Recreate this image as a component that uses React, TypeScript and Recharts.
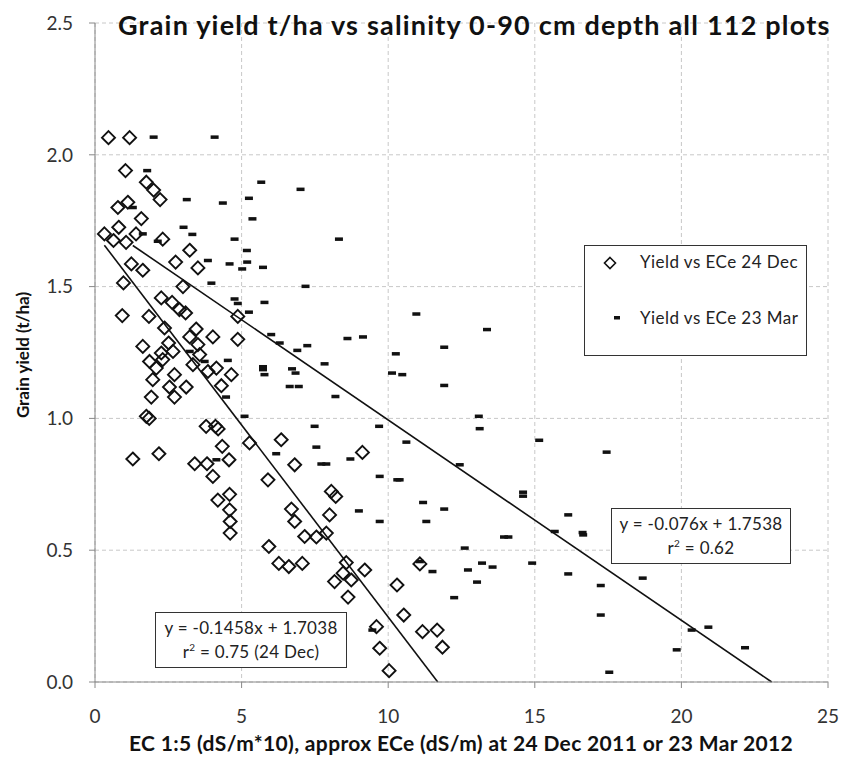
import React from 'react';
import {
  ScatterChart,
  Scatter,
  XAxis,
  YAxis,
  CartesianGrid,
  ReferenceLine,
} from 'recharts';

// EC (x) vs grain yield (y)
const dec24: [number, number][] = [
  [0.46, 2.065], [1.18, 2.065], [1.04, 1.94], [1.75, 1.896], [2.0, 1.866],
  [2.22, 1.83], [0.78, 1.8], [1.12, 1.82], [1.58, 1.758], [0.81, 1.725],
  [0.32, 1.7], [0.63, 1.675], [1.06, 1.668], [1.4, 1.7], [2.31, 1.68],
  [3.23, 1.638], [2.75, 1.593], [1.24, 1.586], [1.63, 1.562], [3.51, 1.571],
  [0.97, 1.514], [3.0, 1.5], [2.26, 1.457], [2.63, 1.44], [2.88, 1.413],
  [3.09, 1.4], [0.93, 1.39], [1.84, 1.387], [4.87, 1.387], [2.37, 1.343],
  [3.45, 1.339], [4.02, 1.309], [3.23, 1.309], [4.87, 1.3], [1.63, 1.273],
  [2.51, 1.286], [2.66, 1.254], [3.51, 1.28], [2.26, 1.248], [1.86, 1.216],
  [2.31, 1.223], [2.09, 1.191], [3.34, 1.204], [3.57, 1.242], [3.85, 1.178],
  [4.14, 1.191], [4.65, 1.166], [2.71, 1.166], [1.97, 1.147], [2.54, 1.119],
  [3.11, 1.119], [4.31, 1.124], [1.92, 1.081], [2.71, 1.081], [1.75, 1.008],
  [1.85, 1.0], [3.79, 0.97], [4.11, 0.97], [4.2, 0.96], [5.27, 0.907],
  [6.35, 0.919], [4.34, 0.894], [1.29, 0.846], [2.18, 0.866], [4.57, 0.843],
  [3.4, 0.828], [3.82, 0.828], [4.02, 0.78], [5.9, 0.767], [4.59, 0.712],
  [4.19, 0.69], [6.81, 0.824], [9.12, 0.871], [8.06, 0.723], [8.21, 0.704],
  [4.59, 0.653], [4.61, 0.609], [4.61, 0.565], [6.7, 0.656], [6.81, 0.609],
  [8.0, 0.634], [7.15, 0.552], [7.55, 0.55], [7.89, 0.565], [5.93, 0.514],
  [6.27, 0.45], [6.61, 0.438], [7.07, 0.45], [8.57, 0.453], [9.2, 0.425],
  [8.46, 0.413], [8.74, 0.387], [8.17, 0.381], [8.63, 0.322], [10.3, 0.368],
  [11.08, 0.448], [10.53, 0.254], [11.17, 0.191], [11.67, 0.197], [11.85, 0.132],
  [9.6, 0.21], [9.71, 0.128], [10.03, 0.043],
];

const mar23: [number, number][] = [
  [2.0, 2.067], [4.08, 2.067], [1.78, 1.94], [5.67, 1.896], [3.13, 1.83],
  [4.36, 1.817], [5.25, 1.835], [1.29, 1.8], [5.37, 1.757], [3.02, 1.725],
  [1.63, 1.7], [3.32, 1.698], [2.14, 1.672], [4.76, 1.68], [5.18, 1.637],
  [3.85, 1.599], [4.59, 1.586], [5.19, 1.593], [5.02, 1.567], [5.73, 1.573],
  [3.97, 1.513], [4.76, 1.453], [4.87, 1.436], [5.78, 1.44], [5.25, 1.403],
  [6.01, 1.318], [6.3, 1.286], [3.23, 1.254], [3.74, 1.216], [4.53, 1.22],
  [5.73, 1.196], [5.73, 1.185], [5.78, 1.166], [4.47, 1.081], [5.1, 1.008],
  [6.18, 0.866], [4.14, 0.843], [7.01, 1.869], [8.32, 1.68], [7.18, 1.501],
  [10.96, 1.396], [6.9, 1.258], [7.24, 1.276], [8.61, 1.303], [9.14, 1.309],
  [10.26, 1.245], [11.91, 1.27], [6.72, 1.188], [6.84, 1.172], [7.83, 1.207],
  [10.13, 1.172], [10.48, 1.166], [11.91, 1.125], [6.64, 1.121], [6.95, 1.121],
  [8.2, 1.083], [13.37, 1.337], [13.09, 1.008], [13.12, 0.961], [10.62, 0.91],
  [15.15, 0.917], [17.45, 0.872], [12.44, 0.824], [14.6, 0.72], [14.6, 0.705],
  [10.39, 0.767], [7.49, 0.97], [9.69, 0.97], [7.55, 0.891], [7.72, 0.827],
  [7.89, 0.827], [8.71, 0.846], [9.71, 0.78], [10.31, 0.767], [9.0, 0.649],
  [9.71, 0.609], [11.19, 0.681], [11.91, 0.656], [11.3, 0.609], [11.08, 0.457],
  [11.51, 0.419], [9.46, 0.197], [16.14, 0.634], [15.68, 0.571], [16.63, 0.567],
  [16.65, 0.558], [16.14, 0.41], [17.25, 0.366], [18.68, 0.394], [17.25, 0.254],
  [20.35, 0.197], [20.92, 0.208], [19.84, 0.122], [22.17, 0.13], [17.54, 0.037],
  [13.95, 0.55], [14.1, 0.55], [12.61, 0.508], [14.91, 0.451], [13.2, 0.451],
  [13.56, 0.436], [12.72, 0.425], [13.03, 0.379], [12.25, 0.32],
];

// fitted lines, end points
const trendDec = [{ x: 0.32, y: 1.657 }, { x: 11.69, y: 0 }];
const trendMar = [{ x: 1.29, y: 1.656 }, { x: 23.08, y: 0 }];

const xTicks = [0, 5, 10, 15, 20, 25];
const yTicks = [0, 0.5, 1.0, 1.5, 2.0, 2.5];

const FONT = 'Lato, "Open Sans", sans-serif';

const toRows = (pts: [number, number][]) => pts.map(([x, y]) => ({ x, y }));

const Diamond = (props: any) => {
  const { cx, cy } = props;
  const r = 6.5;
  return (
    <path
      d={`M${cx},${cy - r}L${cx + r},${cy}L${cx},${cy + r}L${cx - r},${cy}Z`}
      fill="none"
      stroke="#111"
      strokeWidth={1.9}
    />
  );
};

const Dash = (props: any) => {
  const { cx, cy } = props;
  return <rect x={cx - 4} y={cy - 1.75} width={8} height={3.5} fill="#111" />;
};

const boxStyle: React.CSSProperties = {
  position: 'absolute',
  border: '1.5px solid #333',
  background: '#fff',
  fontFamily: FONT,
  color: '#222',
  textAlign: 'center',
  boxSizing: 'border-box',
  whiteSpace: 'nowrap',
};

export default function App() {
  return (
    <div style={{ position: 'absolute', left: 0, top: 0, width: 843, height: 761, background: '#fff', overflow: 'hidden' }}>
      <ScatterChart
        width={843}
        height={761}
        margin={{ top: 23, right: 15, bottom: 0, left: 0 }}
      >
        <CartesianGrid stroke="#c8c8c8" strokeDasharray="4 3" />
        <XAxis
          type="number"
          dataKey="x"
          domain={[0, 25]}
          ticks={xTicks}
          height={79}
          stroke="#888"
          tickSize={6}
          tickMargin={22}
          tick={{ fontSize: 19, fill: '#333', fontFamily: FONT }}
        />
        <YAxis
          type="number"
          dataKey="y"
          domain={[0, 2.5]}
          ticks={yTicks}
          width={95}
          stroke="#888"
          tickSize={6}
          tickMargin={16}
          tickFormatter={(v) => v.toFixed(1)}
          tick={{ fontSize: 19, fill: '#333', fontFamily: FONT }}
        />
        <ReferenceLine segment={trendDec} stroke="#111" strokeWidth={1.6} />
        <ReferenceLine segment={trendMar} stroke="#111" strokeWidth={1.6} />
        <Scatter data={toRows(mar23)} shape={Dash} isAnimationActive={false} />
        <Scatter data={toRows(dec24)} shape={Diamond} isAnimationActive={false} />
      </ScatterChart>

      {/* title */}
      <div
        style={{
          position: 'absolute', left: 118, top: 8, width: 712, textAlign: 'center',
          fontFamily: FONT, fontWeight: 700, fontSize: 27, letterSpacing: 1.2,
          lineHeight: '34px', color: '#111', whiteSpace: 'nowrap',
        }}
      >
        Grain yield t/ha vs salinity 0-90 cm depth all 112 plots
      </div>

      {/* axis titles */}
      <div
        style={{
          position: 'absolute', left: 61, top: 731, width: 800, textAlign: 'center',
          fontFamily: FONT, fontWeight: 700, fontSize: 21, letterSpacing: 0.35,
          lineHeight: '24px', color: '#111', whiteSpace: 'nowrap',
        }}
      >
        EC 1:5 (dS/m*10), approx ECe (dS/m) at 24 Dec 2011 or 23 Mar 2012
      </div>
      <div
        style={{
          position: 'absolute', left: 22, top: 355, transform: 'translate(-50%, -50%) rotate(-90deg)',
          fontFamily: FONT, fontWeight: 700, fontSize: 17, color: '#111', whiteSpace: 'nowrap',
        }}
      >
        Grain yield (t/ha)
      </div>

      {/* legend */}
      <div style={{ ...boxStyle, left: 584, top: 245, width: 223, height: 111, textAlign: 'left' }}>
        <svg style={{ position: 'absolute', left: 18, top: 10 }} width={14} height={14}>
          <path d="M7,1.5L12.5,7L7,12.5L1.5,7Z" fill="none" stroke="#111" strokeWidth={1.6} />
        </svg>
        <div style={{ position: 'absolute', left: 55, top: 5, fontSize: 17, letterSpacing: 0.45 }}>
          Yield vs ECe 24 Dec
        </div>
        <svg style={{ position: 'absolute', left: 28, top: 69 }} width={8} height={6}>
          <rect x={1} y={1} width={6} height={3.5} fill="#111" />
        </svg>
        <div style={{ position: 'absolute', left: 55, top: 61, fontSize: 17, letterSpacing: 0.45 }}>
          Yield vs ECe 23 Mar
        </div>
      </div>

      {/* fit annotations */}
      <div style={{ ...boxStyle, left: 155, top: 612, width: 192, height: 56, fontSize: 17, letterSpacing: 0.3, lineHeight: '24px', paddingTop: 3 }}>
        <div>y = -0.1458x + 1.7038</div>
        <div>r<sup style={{ fontSize: 10, lineHeight: 0 }}>2</sup> = 0.75 (24 Dec)</div>
      </div>
      <div style={{ ...boxStyle, left: 611, top: 508, width: 180, height: 56, fontSize: 17, letterSpacing: 0.3, lineHeight: '24px', paddingTop: 3 }}>
        <div>y = -0.076x + 1.7538</div>
        <div>r<sup style={{ fontSize: 10, lineHeight: 0 }}>2</sup> = 0.62</div>
      </div>
    </div>
  );
}
